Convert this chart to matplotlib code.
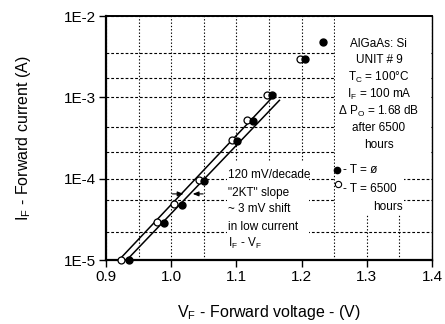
import math
import matplotlib
matplotlib.use("Agg")
import matplotlib.pyplot as plt
from matplotlib.patches import Rectangle
from matplotlib.ticker import FixedLocator, FuncFormatter, NullFormatter

# forward voltage (V) / forward current (A)
v_t0 = [0.936, 0.989, 1.0165, 1.051, 1.1016, 1.126, 1.155, 1.205, 1.233]
i_t0 = [1.0e-5, 2.85e-5, 4.8e-5, 9.4e-5, 2.9e-4, 5.15e-4, 1.08e-3, 2.94e-3, 4.77e-3]

v_t6500 = [0.9226, 0.978, 1.0048, 1.042, 1.0937, 1.117, 1.147, 1.198]
i_t6500 = [1.0e-5, 2.9e-5, 4.9e-5, 9.5e-5, 3.0e-4, 5.2e-4, 1.08e-3, 2.94e-3]

# the two fitted 120 mV/decade lines
fit_a_v = [0.920, 1.160]
fit_a_i = [1.0e-5, 1.1e-3]
fit_b_v = [0.932, 1.166]
fit_b_i = [1.0e-5, 0.92e-3]

x_ticks = [0.9, 1.0, 1.1, 1.2, 1.3, 1.4]
x_grid = [0.95, 1.05, 1.15, 1.25, 1.35]
y_ticks = [1e-5, 1e-4, 1e-3, 1e-2]
y_grid = [2.2e-5, 5.5e-5, 2.1e-4, 4.3e-4, 1.75e-3, 3.5e-3]

info_lines = ["AlGaAs: Si", "UNIT # 9", r"T$_\mathregular{C}$ = 100°C",
              r"I$_\mathregular{F}$ = 100 mA", r"Δ P$_\mathregular{O}$ = 1.68 dB",
              "after 6500", "hours"]
note_lines = ["120 mV/decade", '"2KT" slope', "~ 3 mV shift", "in low current",
              r"I$_\mathregular{F}$ - V$_\mathregular{F}$"]

plt.rcParams["font.family"] = ["Liberation Sans", "DejaVu Sans"]
plt.rcParams["mathtext.default"] = "regular"

FS = 8.5

fig = plt.figure(figsize=(4.45, 3.24), dpi=100)
ax = fig.add_axes([0.238, 0.1975, 0.733, 0.753])

ax.set_yscale("log")
ax.set_xlim(0.9, 1.4)
ax.set_ylim(1e-5, 1e-2)

ax.xaxis.set_major_locator(FixedLocator(x_ticks))
ax.xaxis.set_minor_locator(FixedLocator(x_grid))
ax.yaxis.set_major_locator(FixedLocator(y_ticks))
ax.yaxis.set_minor_locator(FixedLocator(y_grid))
ax.yaxis.set_major_formatter(FuncFormatter(lambda v, p: "1E%d" % round(math.log10(v))))
ax.yaxis.set_minor_formatter(NullFormatter())
ax.xaxis.set_major_formatter(FuncFormatter(lambda v, p: "%.1f" % v))

ax.tick_params(which="major", direction="out", length=5, width=1, labelsize=11, pad=2)
ax.tick_params(which="minor", length=0)

ax.set_axisbelow(True)
ax.xaxis.grid(True, which="both", color="black", linestyle=(0, (1.2, 1.8)), linewidth=0.8)
ax.yaxis.grid(True, which="both", color="black", linestyle=(0, (2.5, 1.8)), linewidth=0.8)

for side in ["left", "bottom"]:
    ax.spines[side].set_linewidth(1.6)
ax.spines["top"].set_linewidth(1.4)
ax.spines["right"].set_linewidth(1.0)

# white boxes behind the labels (they hide the grid in the scan)
ax.add_patch(Rectangle((0.372, 0.0), 0.25, 0.40, transform=ax.transAxes,
                       facecolor="white", edgecolor="none", zorder=1))
ax.add_patch(Rectangle((0.703, 0.39), 0.295, 0.61, transform=ax.transAxes,
                       facecolor="white", edgecolor="none", zorder=1))
ax.add_patch(Rectangle((0.703, 0.184), 0.21, 0.21, transform=ax.transAxes,
                       facecolor="white", edgecolor="none", zorder=1))

ax.plot(fit_a_v, fit_a_i, color="black", linewidth=1.1, zorder=2)
ax.plot(fit_b_v, fit_b_i, color="black", linewidth=1.1, zorder=2)
ax.plot(v_t6500, i_t6500, "o", markersize=5, markerfacecolor="white",
        markeredgecolor="black", markeredgewidth=0.9, zorder=3, clip_on=False)
ax.plot(v_t0, i_t0, "o", markersize=5, color="black", zorder=4, clip_on=False)

arrow = dict(arrowstyle="-|>,head_length=0.35,head_width=0.14", color="black",
             linewidth=0.8, shrinkA=0, shrinkB=0)
ax.annotate("", xy=(1.019, 6.5e-5), xytext=(1.002, 6.5e-5), arrowprops=arrow, zorder=3)
ax.annotate("", xy=(1.033, 6.5e-5), xytext=(1.049, 6.5e-5), arrowprops=arrow, zorder=3)

note_y = [0.335, 0.264, 0.195, 0.124, 0.053]
for s, y in zip(note_lines, note_y):
    ax.text(0.374, y, s, transform=ax.transAxes, fontsize=FS,
            ha="left", va="baseline", zorder=5)

info_y = [0.875, 0.807, 0.736, 0.666, 0.596, 0.529, 0.461]
for s, y in zip(info_lines, info_y):
    ax.text(0.837, y, s, transform=ax.transAxes, fontsize=FS,
            ha="center", va="baseline", zorder=5)

# legend block
ax.plot([0.709], [0.369], "o", markersize=4.5, color="black",
        transform=ax.transAxes, zorder=5)
ax.plot([0.71], [0.311], "o", markersize=4.5, markerfacecolor="white",
        markeredgecolor="black", markeredgewidth=0.8, transform=ax.transAxes, zorder=5)
ax.text(0.728, 0.355, "- T = ø", transform=ax.transAxes, fontsize=FS,
        ha="left", va="baseline", zorder=5)
ax.text(0.728, 0.280, "- T = 6500", transform=ax.transAxes, fontsize=FS,
        ha="left", va="baseline", zorder=5)
ax.text(0.818, 0.205, "hours", transform=ax.transAxes, fontsize=FS,
        ha="left", va="baseline", zorder=5)

ax.set_xlabel(r"V$_\mathregular{F}$ - Forward voltage - (V)", fontsize=11.5)
ax.set_ylabel(r"I$_\mathregular{F}$ - Forward current (A)", fontsize=11.5)
ax.xaxis.set_label_coords(0.5, -0.175)
ax.yaxis.set_label_coords(-0.225, 0.5)

fig.savefig("out.png", dpi=100)
